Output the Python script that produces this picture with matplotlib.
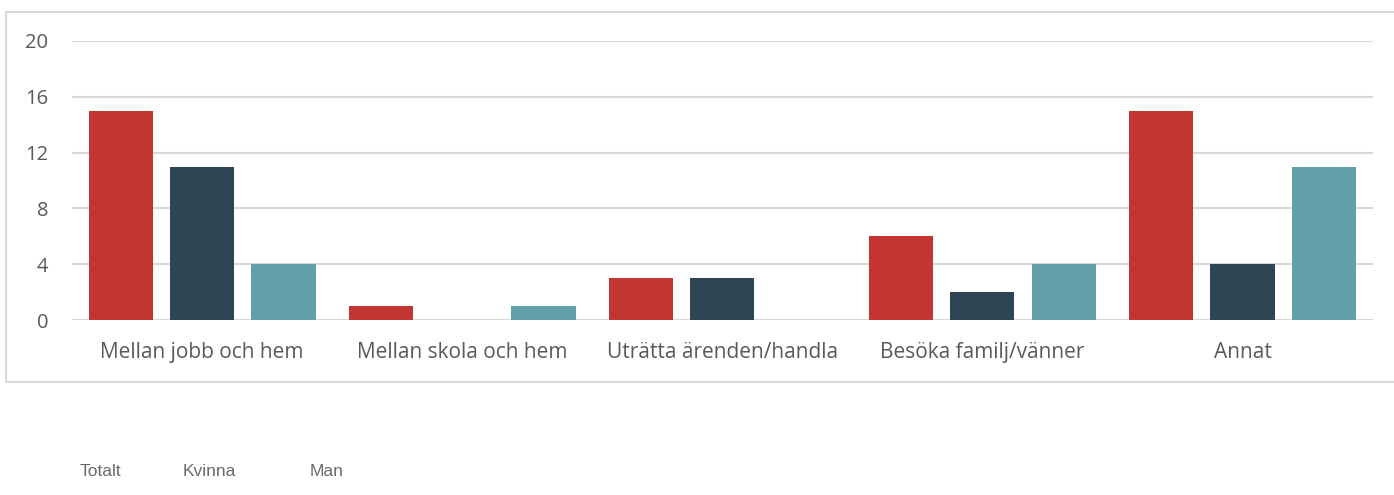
import matplotlib.pyplot as plt
import numpy as np
from matplotlib.patches import Rectangle

plt.rcParams['font.family'] = ['Open Sans', 'DejaVu Sans']

categories = ['Mellan jobb och hem', 'Mellan skola och hem', 'Uträtta ärenden/handla',
              'Besöka familj/vänner', 'Annat']
totalt = [15, 1, 3, 6, 15]
kvinna = [11, 0, 3, 2, 4]
man = [4, 1, 0, 4, 11]
series_names = ['Totalt', 'Kvinna', 'Man']
colors = ['#C23531', '#2F4554', '#61A0A8']
yticks = [0, 4, 8, 12, 16, 20]

fig = plt.figure(figsize=(13.94, 4.95), dpi=100)

# outer chart border (right edge runs off the picture)
fig.patches.append(Rectangle((6 / 1394, 1 - 382 / 495), 1.5, (382 - 12) / 495,
                             transform=fig.transFigure, fill=False,
                             edgecolor='#D9D9D9', linewidth=1.5))

ax = fig.add_axes([72 / 1394, 1 - 320 / 495, (1372.5 - 72) / 1394, (320 - 41) / 495])
x = np.arange(len(categories))
w = 0.247
step = 0.313
for i, (vals, c) in enumerate(zip([totalt, kvinna, man], colors)):
    ax.bar(x + (i - 1) * step, vals, width=w, color=c, zorder=3)

ax.set_xlim(-0.5, len(categories) - 0.5)
ax.set_ylim(0, 20)
ax.set_yticks(yticks)
ax.set_yticklabels([str(v) for v in yticks], fontsize=14.5, color='#595959')
ax.set_xticks(x)
ax.set_xticklabels(categories, fontsize=15, color='#595959')
ax.tick_params(axis='both', length=0)
ax.tick_params(axis='x', pad=16)
ax.tick_params(axis='y', pad=17)
ax.grid(axis='y', color='#D9D9D9', linewidth=1.5, zorder=0)
for s in ax.spines.values():
    s.set_visible(False)

# legend texts only
for name, xp in zip(series_names, [80, 183, 310]):
    fig.text(xp / 1394, 1 - 472 / 495, name, fontsize=12.5, color='#6a6a6a',
             family='Liberation Sans', va='center', ha='left')

plt.savefig('out.png', dpi=100)
